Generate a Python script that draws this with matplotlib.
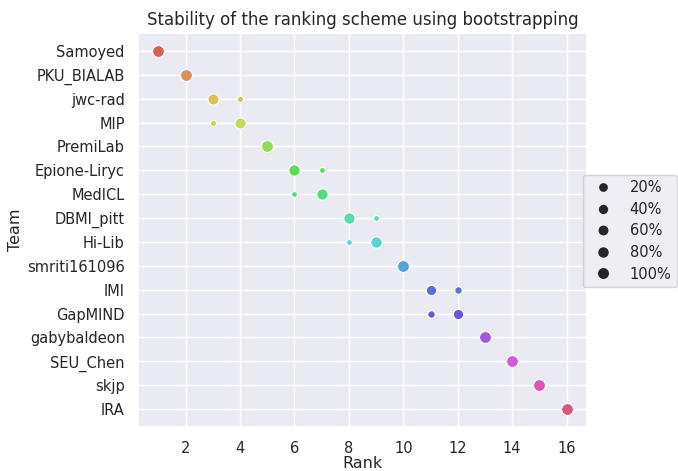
import numpy as np
import seaborn as sns
import matplotlib
matplotlib.use("Agg")
import matplotlib.pyplot as plt
from matplotlib.lines import Line2D

# teams in ranking order (top to bottom)
teams = ["Samoyed", "PKU_BIALAB", "jwc-rad", "MIP", "PremiLab", "Epione-Liryc",
         "MedICL", "DBMI_pitt", "Hi-Lib", "smriti161096", "IMI", "GapMIND",
         "gabybaldeon", "SEU_Chen", "skjp", "IRA"]

# bootstrap results: (team, rank, fraction of bootstrap samples)
pt_team = ["Samoyed", "PKU_BIALAB", "jwc-rad", "jwc-rad", "MIP", "MIP", "PremiLab",
           "Epione-Liryc", "Epione-Liryc", "MedICL", "MedICL", "DBMI_pitt", "DBMI_pitt",
           "Hi-Lib", "Hi-Lib", "smriti161096", "IMI", "IMI", "GapMIND", "GapMIND",
           "gabybaldeon", "SEU_Chen", "skjp", "IRA"]
pt_rank = [1, 2, 3, 4, 3, 4, 5, 6, 7, 6, 7, 8, 9, 8, 9, 10, 11, 12, 11, 12, 13, 14, 15, 16]
pt_freq = [1.0, 1.0, 0.86, 0.14, 0.14, 0.86, 1.0, 0.9, 0.1, 0.1, 0.9, 0.9, 0.1,
           0.1, 0.9, 1.0, 0.72, 0.28, 0.28, 0.72, 1.0, 1.0, 1.0, 1.0]

legend_levels = [0.2, 0.4, 0.6, 0.8, 1.0]
legend_labels = ["20%", "40%", "60%", "80%", "100%"]

sns.set_theme(style="darkgrid")
palette = sns.color_palette("hls", len(teams))

fig = plt.figure(figsize=(6.78, 4.71), dpi=100)
ax = fig.add_axes([0.2035, 0.0934, 0.8658 - 0.2035, 0.930 - 0.0934])

fmin = min(pt_freq)
for t, r, f in zip(pt_team, pt_rank, pt_freq):
    i = teams.index(t)
    s = 18 + (f - fmin) / (1 - fmin) * 56
    ax.scatter(r, i, s=s, color=palette[i], edgecolor="white", linewidth=0.8, zorder=3)

ax.set_yticks(range(len(teams)))
ax.set_yticklabels(teams)
ax.set_ylim(len(teams) - 0.25, -0.75)
ax.set_xlim(0.25, 16.75)
ax.set_xticks([2, 4, 6, 8, 10, 12, 14, 16])
ax.tick_params(labelsize=10.5)
ax.tick_params(axis="x", pad=4)
ax.set_xlabel("Rank", fontsize=11.5, labelpad=0)
ax.set_ylabel("Team", fontsize=11.5, labelpad=3)
ax.set_title("Stability of the ranking scheme using bootstrapping", fontsize=12)

handles = []
for lv in legend_levels:
    ms = 6.3 + (lv - 0.2) / 0.8 * 1.6
    handles.append(Line2D([], [], marker="o", linestyle="", color="#262626",
                          markeredgewidth=0, markersize=ms))
fig.legend(handles, legend_labels, loc="center left", bbox_to_anchor=(583 / 678, 0.5096),
           bbox_transform=fig.transFigure, borderaxespad=0, fontsize=10.5,
           labelspacing=0.45)

fig.savefig("out.png", dpi=100)
